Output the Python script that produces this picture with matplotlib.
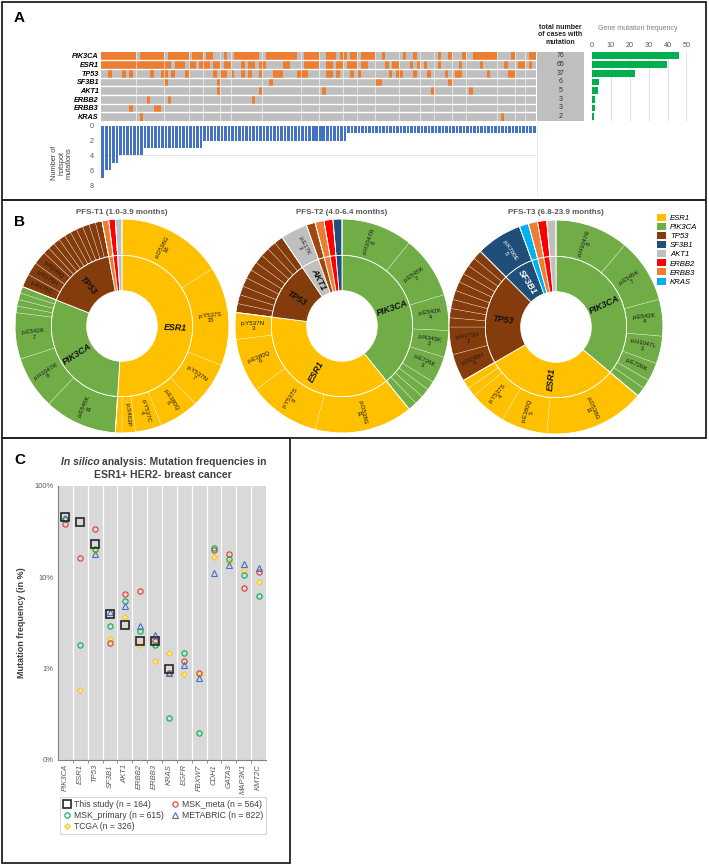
import numpy as np
import matplotlib
matplotlib.use('Agg')
import matplotlib.pyplot as plt
from matplotlib.colors import ListedColormap
from matplotlib.patches import Rectangle, Patch
from matplotlib.lines import Line2D

plt.rcParams['font.family'] = ['Liberation Sans', 'DejaVu Sans']

# ---------------- data: panel A (oncoprint) ----------------
onco_genes = ['PIK3CA', 'ESR1', 'TP53', 'SF3B1', 'AKT1', 'ERBB2', 'ERBB3', 'KRAS']
n_cases = 124
# mutated case columns per gene
pik3ca_cols = list(range(0, 10)) + list(range(11, 18)) + list(range(19, 25)) + [26, 27, 28, 30, 31, 35] + \
    list(range(38, 45)) + list(range(47, 56)) + [58, 59, 60, 61, 64, 65, 66, 68, 69, 71, 72, 74, 75, 76, 77,
    80, 86, 89, 96, 99, 103, 106, 107, 108, 109, 110, 111, 112, 117, 122, 123]
esr1_cols = list(range(0, 20)) + [21, 22, 23, 25, 26, 28, 29, 30, 32, 33, 35, 36, 40, 42, 43, 45, 46, 52, 53,
    58, 59, 60, 61, 64, 65, 67, 68, 70, 71, 72, 74, 75, 81, 83, 84, 88, 90, 92, 96, 102, 108, 115, 119, 120, 122]
tp53_cols = [2, 6, 8, 14, 17, 18, 20, 24, 32, 34, 35, 37, 40, 42, 45, 49, 50, 51, 56, 57, 58, 64, 65, 67, 71,
    73, 82, 84, 85, 89, 93, 98, 101, 102, 110, 116, 117]
sf3b1_cols = [18, 33, 48, 78, 79, 99]
akt1_cols = [33, 45, 63, 94, 105]
erbb2_cols = [13, 19, 43]
erbb3_cols = [8, 15, 16]
kras_cols = [11, 114]
onco_cols = [pik3ca_cols, esr1_cols, tp53_cols, sf3b1_cols, akt1_cols, erbb2_cols, erbb3_cols, kras_cols]
# a few white column separators seen in the grid
sep_cols = [10, 18, 25, 29, 34, 37, 46, 57, 62, 69, 73, 78, 85, 91, 95, 100, 104, 113, 118, 121]
case_totals = [76, 65, 37, 6, 5, 3, 3, 2]
gene_freq = [46.3, 39.6, 22.6, 3.7, 3.0, 1.8, 1.8, 1.2]
hotspot_levels = [7, 6, 5, 4, 3, 2, 1]
hotspot_ncases = [1, 2, 2, 7, 17, 41, 54]

# ---------------- data: panel B (sunbursts) ----------------
gene_colors = {'ESR1': '#FFC000', 'PIK3CA': '#70AD47', 'TP53': '#843C0C', 'SF3B1': '#1F4E79',
               'AKT1': '#BFBFBF', 'ERBB2': '#FF0000', 'ERBB3': '#ED7D31', 'KRAS': '#00B0F0',
               'other': '#9E480E'}
legend_genes = ['ESR1', 'PIK3CA', 'TP53', 'SF3B1', 'AKT1', 'ERBB2', 'ERBB3', 'KRAS']

t1_title = 'PFS-T1 (1.0-3.9 months)'
t1_genes = ['ESR1', 'PIK3CA', 'TP53', 'ERBB3', 'ERBB2', 'AKT1']
t1_names = [['p.D538G', 'p.Y537S', 'p.Y537N', 'p.E380Q', 'p.Y537C', 'p.S463P', ''],
            ['p.E545K', 'p.H1047R', 'p.E542K', '', '', '', ''],
            ['p.R175C', 'p.R175H', 'p.R248Q', '', '', '', '', '', '', '', '', '', ''],
            [''], [''], ['']]
t1_counts = [[16, 15, 7, 6, 4, 2, 1],
             [11, 8, 7, 1, 1, 1, 1],
             [2, 2, 2, 1, 1, 1, 1, 1, 1, 1, 1, 1, 1],
             [1], [1], [1]]

t2_title = 'PFS-T2 (4.0-6.4 months)'
t2_genes = ['PIK3CA', 'ESR1', 'TP53', 'AKT1', 'other', 'ERBB3', 'ERBB2', 'SF3B1']
t2_names = [['p.H1047R', 'p.E545K', 'p.E542K', 'p.N345K', 'p.E726K', '', '', '', ''],
            ['p.D538G', 'p.Y537S', 'p.E380Q', 'p.Y537N'],
            ['', '', '', '', '', '', '', '', '', ''],
            ['p.E17K'], [''], [''], [''], ['']]
t2_counts = [[8, 7, 4, 3, 3, 1, 1, 1, 1],
             [11, 8, 6, 3],
             [1, 1, 1, 1, 1, 1, 1, 1, 1, 1],
             [3], [1], [1], [1], [1]]

t3_title = 'PFS-T3 (6.8-23.9 months)'
t3_genes = ['PIK3CA', 'ESR1', 'TP53', 'SF3B1', 'KRAS', 'ERBB3', 'ERBB2', 'AKT1']
t3_names = [['p.H1047R', 'p.E545K', 'p.E542K', 'p.H1047L', 'p.E726K', '', ''],
            ['p.D538G', 'p.E380Q', 'p.Y537S', '', ''],
            ['p.R248H', 'p.R175H', '', '', '', '', '', '', '', '', ''],
            ['p.K700E'], [''], [''], [''], ['']]
t3_counts = [[8, 7, 4, 3, 2, 1, 1],
             [11, 5, 4, 1, 1],
             [3, 3, 1, 1, 1, 1, 1, 1, 1, 1, 1],
             [5], [1], [1], [1], [1]]

# ---------------- data: panel C ----------------
c_genes = ['PIK3CA', 'ESR1', 'TP53', 'SF3B1', 'AKT1', 'ERBB2', 'ERBB3', 'KRAS', 'EGFR', 'FBXW7',
           'CDH1', 'GATA3', 'MAP3K1', 'KMT2C']
nan = np.nan
this_study = [46.3, 40.1, 23.1, 4.0, 3.0, 2.0, 2.0, 1.0, nan, nan, nan, nan, nan, nan]
msk_meta = [38.2, 16.3, 33.4, 1.9, 6.5, 7.1, 2.0, 0.9, 1.2, 0.89, 19.9, 18.0, 7.6, 11.5]
msk_primary = [44.0, 1.8, 20.4, 2.9, 5.5, 2.6, 1.8, 0.29, 1.48, 0.2, 21.1, 15.7, 10.7, 6.2]
metabric = [45.0, nan, 18.0, 4.2, 4.8, 2.9, 2.35, 0.9, 1.09, 0.8, 11.2, 13.5, 13.9, 12.5]
tcga = [44.0, 0.58, 19.5, 2.1, 3.7, 1.8, 1.2, 1.48, 0.88, 0.88, 16.8, 14.6, 11.9, 9.0]

W, H = 709, 865


def box(x0, y0, x1, y1):
    # pixel box (top-left origin) -> figure fraction rect
    return [x0 / W, 1 - y1 / H, (x1 - x0) / W, (y1 - y0) / H]


fig = plt.figure(figsize=(W / 100, H / 100), dpi=100)

# panel frames
for (x0, y0, x1, y1) in [(2, 2, 706, 200), (2, 200, 706, 438), (2, 438, 290, 863)]:
    fig.add_artist(Rectangle((x0 / W, 1 - y1 / H), (x1 - x0) / W, (y1 - y0) / H,
                             transform=fig.transFigure, fill=False, lw=1.3, ec='#222222'))

# ================= Panel A =================
fig.text(14 / W, 1 - 18 / H, 'A', fontsize=11, fontweight='bold', va='center')

ax_on = fig.add_axes(box(101, 51.5, 536, 121))
mat = np.zeros((len(onco_genes), n_cases))
for i, cols in enumerate(onco_cols):
    mat[i, cols] = 1
ax_on.pcolormesh(np.arange(n_cases + 1) - 0.5, np.arange(len(onco_genes) + 1) - 0.5, mat,
                 cmap=ListedColormap(['#BFBFBF', '#ED7D31']), linewidth=0, antialiased=False)
for xx in sep_cols:
    ax_on.axvline(xx - 0.5, color='white', lw=0.5, alpha=0.8)
for yy in np.arange(0.5, len(onco_genes) - 0.5):
    ax_on.axhline(yy, color='white', lw=1.0)
ax_on.set_xlim(-0.5, n_cases - 0.5)
ax_on.set_ylim(len(onco_genes) - 0.5, -0.5)
ax_on.set_xticks([])
ax_on.set_yticks(range(len(onco_genes)))
ax_on.set_yticklabels(onco_genes, fontsize=5.2, fontstyle='italic', fontweight='bold')
ax_on.tick_params(axis='y', length=0, pad=1.5)
for s in ax_on.spines.values():
    s.set_visible(False)

# totals column
ax_tot = fig.add_axes(box(537, 51.5, 584, 121))
ax_tot.set_facecolor('#BFBFBF')
ax_tot.set_xlim(0, 1)
ax_tot.set_ylim(len(onco_genes) - 0.5, -0.5)
for i, v in enumerate(case_totals):
    ax_tot.text(0.5, i, str(v), ha='center', va='center', fontsize=5, color='#333333')
ax_tot.set_xticks([])
ax_tot.set_yticks([])
for s in ax_tot.spines.values():
    s.set_visible(False)
fig.text(560 / W, 1 - 35 / H, 'total number\nof cases with\nmutation', ha='center', va='center',
         fontsize=5, fontweight='bold', linespacing=1.15, color='#222222')

# gene frequency bars
ax_fr = fig.add_axes(box(592, 51.5, 694, 121))
ax_fr.barh(range(len(gene_freq)), gene_freq, height=0.78, color='#00B050', zorder=3)
ax_fr.set_xlim(0, 54)
ax_fr.set_ylim(len(onco_genes) - 0.5, -0.5)
ax_fr.set_xticks([0, 10, 20, 30, 40, 50])
ax_fr.xaxis.tick_top()
ax_fr.tick_params(axis='x', length=0, labelsize=5.2, labelcolor='#595959', pad=2)
ax_fr.set_yticks([])
ax_fr.grid(axis='x', color='#D9D9D9', lw=0.6, zorder=0)
for s in ax_fr.spines.values():
    s.set_visible(False)
fig.text(638 / W, 1 - 28 / H, 'Gene mutation frequency', ha='center', va='center', fontsize=5,
         color='#7F7F7F')

# hotspot mutations per case
ax_hs = fig.add_axes(box(101, 126, 536, 185))
hotspot = np.repeat(hotspot_levels, hotspot_ncases)
ax_hs.bar(np.arange(len(hotspot)), hotspot, width=0.72, color='#4472C4', zorder=3)
ax_hs.set_xlim(-0.5, n_cases - 0.5)
ax_hs.set_ylim(8, 0)
ax_hs.set_yticks([0, 2, 4, 6, 8])
ax_hs.tick_params(axis='y', length=0, labelsize=5.2, labelcolor='#595959', pad=5)
ax_hs.set_xticks([])
for yy in [4, 8]:
    ax_hs.axhline(yy, color='#E0E0E0', lw=0.6, zorder=0)
for s in ax_hs.spines.values():
    s.set_visible(False)
fig.text(62 / W, 1 - 163 / H, 'Number of\nhotspot\nmutations', rotation=90, ha='center', va='center',
         fontsize=5.3, color='#404040', linespacing=1.0)
fig.add_artist(Line2D([537 / W, 537 / W], [1 - 124 / H, 1 - 196 / H], transform=fig.transFigure,
                      color='#E6E6E6', lw=0.6))

# ================= Panel B =================
fig.text(14 / W, 1 - 222 / H, 'B', fontsize=11, fontweight='bold', va='center')


def sunburst(cx, cy, title, genes, names, counts):
    R = 107
    ax = fig.add_axes(box(cx - R, cy - R, cx + R, cy + R))
    outer_vals, outer_cols, outer_names, outer_text_col = [], [], [], []
    for g, nm, ct in zip(genes, names, counts):
        outer_vals += ct
        outer_cols += [gene_colors[g]] * len(ct)
        outer_names += nm
        outer_text_col += ['white' if g == 'SF3B1' else '#1A1A1A'] * len(ct)
    inner_vals = [sum(ct) for ct in counts]
    inner_cols = [gene_colors[g] for g in genes]
    wo, _ = ax.pie(outer_vals, radius=1.0, colors=outer_cols, startangle=90, counterclock=False,
                   wedgeprops=dict(width=0.34, edgecolor=(1, 1, 1, 0.55), linewidth=0.35))
    # white borders between genes in the outer ring
    ax.pie(inner_vals, radius=1.0, colors=['none'] * len(inner_vals), startangle=90, counterclock=False,
           wedgeprops=dict(width=0.34, edgecolor='white', linewidth=0.6))
    wi, _ = ax.pie(inner_vals, radius=0.66, colors=inner_cols, startangle=90, counterclock=False,
                   wedgeprops=dict(width=0.33, edgecolor='white', linewidth=0.6))
    ax.set_xlim(-1, 1)
    ax.set_ylim(-1, 1)
    total = sum(inner_vals)

    def radial(r, ang, txt, **kw):
        x, y = r * np.cos(np.radians(ang)), r * np.sin(np.radians(ang))
        rot = ang % 360
        if 90 < rot <= 270:
            rot -= 180
        elif rot > 270:
            rot -= 360
        ax.text(x, y, txt, rotation=rot, rotation_mode='anchor', ha='center', va='center', **kw)

    for w, nm, v, tc in zip(wo, outer_names, outer_vals, outer_text_col):
        if not nm or v < 2:
            continue
        lab = nm if v == 2 else f'{nm}\n{v}'
        radial(0.83, (w.theta1 + w.theta2) / 2, lab, fontsize=4.4, color=tc, linespacing=1.0)
    for w, g, v in zip(wi, genes, inner_vals):
        if v / total * 360 < 12:
            continue
        radial(0.495, (w.theta1 + w.theta2) / 2, g, fontsize=6.4, fontweight='bold', fontstyle='italic',
               color='white' if g == 'SF3B1' else '#111111')
    fig.text(cx / W, 1 - 212 / H, title, ha='center', va='center', fontsize=5.8, fontweight='bold',
             color='#595959')


sunburst(122, 326, t1_title, t1_genes, t1_names, t1_counts)
sunburst(342, 326, t2_title, t2_genes, t2_names, t2_counts)
sunburst(556, 327, t3_title, t3_genes, t3_names, t3_counts)

leg_handles = [Patch(facecolor=gene_colors[g], edgecolor='none') for g in legend_genes]
fig.legend(leg_handles, legend_genes, loc='upper left', bbox_to_anchor=(657 / W, 1 - 214 / H),
           frameon=False, prop=dict(style='italic', size=5.6), handlelength=1.2, handleheight=1.0,
           labelspacing=0.12, handletextpad=0.5, borderaxespad=0, borderpad=0)

# ================= Panel C =================
fig.text(14 / W, 1 - 460 / H, 'C', fontsize=11, fontweight='bold', va='center')
fig.text(100 / W, 1 - 462 / H, 'In silico', ha='right', va='center', fontsize=7.5, fontweight='bold',
         fontstyle='italic', color='#404040')
fig.text(102 / W, 1 - 462 / H, 'analysis: Mutation frequencies in', ha='left', va='center', fontsize=7.5,
         fontweight='bold', color='#404040')
fig.text(163 / W, 1 - 475 / H, 'ESR1+ HER2- breast cancer', ha='center', va='center', fontsize=7.5,
         fontweight='bold', color='#404040')

ax_c = fig.add_axes(box(58, 486, 266, 760))
ax_c.set_facecolor('#D9D9D9')
xs = np.arange(len(c_genes))
ax_c.plot(xs, this_study, ls='none', marker='s', ms=6, mfc='none', mec='#262626', mew=1.2,
          label='This study (n = 164)', zorder=5)
ax_c.plot(xs, msk_meta, ls='none', marker='o', ms=3.8, mfc='none', mec='#E03C31', mew=0.8,
          label='MSK_meta (n = 564)', zorder=4)
ax_c.plot(xs, msk_primary, ls='none', marker='o', ms=3.8, mfc='none', mec='#00B050', mew=0.8,
          label='MSK_primary (n = 615)', zorder=4)
ax_c.plot(xs, metabric, ls='none', marker='^', ms=3.8, mfc='none', mec='#4472C4', mew=0.8,
          label='METABRIC (n = 822)', zorder=4)
ax_c.plot(xs, tcga, ls='none', marker='D', ms=3.0, mfc='#FFE699', mec='#FFC000', mew=0.6,
          label='TCGA (n = 326)', zorder=3)
ax_c.set_yscale('log')
ax_c.set_ylim(0.1, 100)
ax_c.set_xlim(-0.5, len(c_genes) - 0.5)
ax_c.set_yticks([0.1, 1, 10, 100])
ax_c.set_yticklabels(['0%', '1%', '10%', '100%'])
ax_c.yaxis.set_minor_locator(matplotlib.ticker.NullLocator())
ax_c.set_xticks(xs)
ax_c.set_xticklabels(c_genes, rotation=90, fontstyle='italic')
ax_c.set_xticks(np.arange(0.5, len(c_genes) - 0.5), minor=True)
ax_c.grid(axis='x', which='minor', color='white', lw=0.9)
ax_c.tick_params(axis='x', which='major', length=0, labelsize=5.5, labelcolor='#595959', pad=3)
ax_c.tick_params(axis='x', which='minor', length=2.5, color='#808080')
ax_c.tick_params(axis='y', length=0, labelsize=5.5, labelcolor='#595959', pad=3)
ax_c.spines['top'].set_visible(False)
ax_c.spines['right'].set_visible(False)
ax_c.spines['left'].set_color('#808080')
ax_c.spines['bottom'].set_color('#808080')
ax_c.set_ylabel('Mutation frequency (in %)', fontsize=6.5, fontweight='bold', color='#404040', labelpad=6)

hd, lb = ax_c.get_legend_handles_labels()
order = [0, 2, 4, 1, 3]
leg = ax_c.legend([hd[i] for i in order], [lb[i] for i in order], ncol=2, loc='upper left',
                  bbox_to_anchor=(60 / W, 1 - 797 / H), bbox_transform=fig.transFigure, fontsize=6.2,
                  frameon=True, fancybox=False, edgecolor='#BFBFBF', borderpad=0.35, columnspacing=0.8,
                  handletextpad=0.3, labelspacing=0.25, handlelength=1.0, borderaxespad=0)
leg.get_frame().set_linewidth(0.6)
for t in leg.get_texts():
    t.set_color('#404040')

fig.savefig('out.png', dpi=100)
